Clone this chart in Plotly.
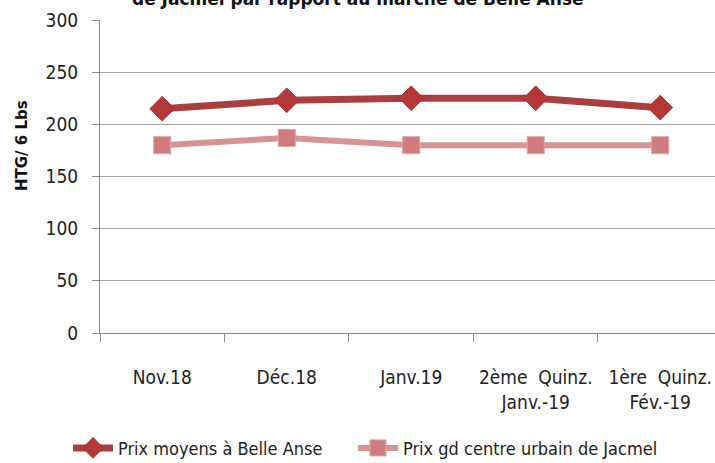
import plotly.graph_objects as go

categories = ["Nov.18", "Déc.18", "Janv.19", "2ème  Quinz.<br>Janv.-19", "1ère  Quinz.<br>Fév.-19"]
belle_anse = [215, 223, 225, 225, 216]
jacmel = [180, 187, 180, 180, 180]
y_ticks = [0, 50, 100, 150, 200, 250, 300]

narrow = "DejaVu Sans Condensed, Liberation Sans Narrow, Roboto, sans-serif"

fig = go.Figure()
fig.add_trace(go.Scatter(
    x=categories, y=belle_anse, name="Prix moyens à Belle Anse",
    mode="lines+markers", legend="legend",
    line=dict(color="#AA3F3F", width=7),
    marker=dict(symbol="diamond", size=19, color="#B43838",
                line=dict(color="#A83232", width=1)),
))
fig.add_trace(go.Scatter(
    x=categories, y=jacmel, name="Prix gd centre urbain de Jacmel",
    mode="lines+markers", legend="legend2",
    line=dict(color="#D99393", width=6),
    marker=dict(symbol="square", size=17, color="#D07C7C",
                line=dict(color="#DFA0A0", width=1)),
))

legend_font = dict(family=narrow, size=18, color="#222222")
fig.update_layout(
    width=715, height=463,
    margin=dict(l=100, r=0, t=20, b=130, autoexpand=False),
    paper_bgcolor="white", plot_bgcolor="white",
    showlegend=True,
    legend=dict(orientation="h", xref="container", yref="container",
                x=68 / 715, y=0.032, xanchor="left", yanchor="middle",
                font=legend_font, itemwidth=40, borderwidth=0),
    legend2=dict(orientation="h", xref="container", yref="container",
                 x=353 / 715, y=0.032, xanchor="left", yanchor="middle",
                 font=legend_font, itemwidth=40, borderwidth=0),
    annotations=[
        dict(text="<b>HTG/ 6 Lbs</b>", textangle=-90, xref="paper", yref="paper",
             x=-0.145, y=0.6, showarrow=False,
             font=dict(family="DejaVu Sans", size=15, color="#111111")),
        dict(text="<b>de Jacmel par rapport au marché de Belle Anse</b>", xref="paper", yref="paper",
             x=0.42, y=1.03, yanchor="bottom", showarrow=False,
             font=dict(family="DejaVu Sans", size=17, color="#111111")),
    ],
)
fig.update_xaxes(
    type="category", range=[-0.5, 4.44], automargin=False, tickangle=0,
    tickson="boundaries", ticks="outside", ticklen=8, tickcolor="#8C8C8C",
    showline=True, linecolor="#8C8C8C", linewidth=1, showgrid=False,
    tickfont=dict(family=narrow, size=19, color="#222222"),
    ticklabelstandoff=27,
)
fig.update_yaxes(
    range=[0, 300], tickvals=y_ticks, automargin=False,
    ticks="outside", ticklen=7, tickcolor="#8C8C8C",
    showline=True, linecolor="#8C8C8C", linewidth=1,
    showgrid=True, gridcolor="#A6A6A6", gridwidth=1, zeroline=False,
    tickfont=dict(family=narrow, size=19, color="#222222"),
    ticklabelstandoff=10,
)

fig.write_html("out.html", config={"displayModeBar": False},
               post_script="document.body.style.margin='0';")
